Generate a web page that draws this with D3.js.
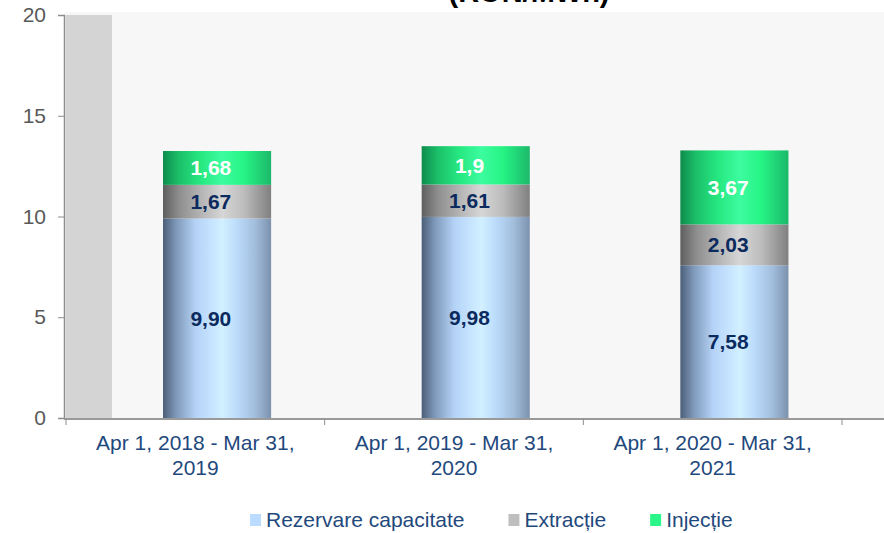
<!doctype html>
<html>
<head>
<style>
    body { margin: 0; background: #fff; }
    text { font-family: "Liberation Sans", Arial, sans-serif; }
</style>
<script src="https://d3js.org/d3.v7.min.js"></script>
</head>
<body>

    <svg id="my_dataviz" width="884" height="533"></svg>

    <script>

        // Data
        var categories = ["Apr 1, 2018 - Mar 31, 2019", "Apr 1, 2019 - Mar 31, 2020", "Apr 1, 2020 - Mar 31, 2021"];
        var catLines = [["Apr 1, 2018 - Mar 31,", "2019"], ["Apr 1, 2019 - Mar 31,", "2020"], ["Apr 1, 2020 - Mar 31,", "2021"]];
        var seriesNames = ["Rezervare capacitate", "Extracție", "Injecție"];
        var rezervare = [9.90, 9.98, 7.58];
        var extractie = [1.67, 1.61, 2.03];
        var injectie = [1.68, 1.9, 3.67];
        var labels = [["9,90", "9,98", "7,58"], ["1,67", "1,61", "2,03"], ["1,68", "1,9", "3,67"]];
        var yTicks = [0, 5, 10, 15, 20];

        var svg = d3.select("svg"), width = +svg.attr("width"), height = +svg.attr("height");

        // plot frame
        var pLeft = 64, pTop = 15, pBottom = 418, pRight = 884;

        var x = d3.scaleBand().domain(categories).range([66, 842]).padding(0);
        var y = d3.scaleLinear().domain([0, 20]).range([pBottom, pTop]);

        // gradients (cylinder look)
        var defs = svg.append("defs");
        var grads = [
          ["gBlue", [[0, "#4b5e78"], [0.12, "#7e98b8"], [0.3, "#b4d2f6"], [0.45, "#c6e4ff"], [0.55, "#d2f0ff"], [0.68, "#bcdcfc"], [0.85, "#a2bedc"], [1, "#7c92ae"]]],
          ["gGrey", [[0, "#5e5e5e"], [0.15, "#8e8e8e"], [0.35, "#b4b4b4"], [0.55, "#d6d6d6"], [0.75, "#bcbcbc"], [1, "#808080"]]],
          ["gGreen", [[0, "#0e8c4c"], [0.15, "#1cc06a"], [0.35, "#26e880"], [0.55, "#3cfca0"], [0.75, "#26f484"], [1, "#1cb86a"]]]
        ];
        grads.forEach(function (g) {
          var lg = defs.append("linearGradient").attr("id", g[0]).attr("x1", "0").attr("x2", "1").attr("y1", "0").attr("y2", "0");
          g[1].forEach(function (s) { lg.append("stop").attr("offset", s[0]).attr("stop-color", s[1]); });
        });
        var fills = ["url(#gBlue)", "url(#gGrey)", "url(#gGreen)"];
        var legendColors = ["#bcdcff", "#bfbfbf", "#2cf58a"];
        var labelColors = ["#0b2a5e", "#0b2a5e", "#ffffff"];

        // background + side wall
        svg.append("rect").attr("x", pLeft).attr("y", 12).attr("width", pRight - pLeft).attr("height", pBottom - 12).attr("fill", "#f7f7f7");
        svg.append("rect").attr("x", 66).attr("y", pTop).attr("width", 46).attr("height", pBottom - pTop).attr("fill", "#d4d4d4");

        // title (clipped at top)
        svg.append("text").attr("x", 529).attr("y", 2).attr("text-anchor", "middle")
          .attr("font-size", 29).attr("font-weight", "bold").attr("fill", "#000").text("(RON/MWh)");

        // stack
        var rows = categories.map(function (c, i) { return { cat: c, r: rezervare[i], e: extractie[i], j: injectie[i] }; });
        var stack = d3.stack().keys(["r", "e", "j"])(rows);

        var bw = x.bandwidth();
        stack.forEach(function (layer, k) {
          var g = svg.append("g");
          g.selectAll("rect").data(layer).enter().append("rect")
            .attr("x", function (d) { return x(d.data.cat) + bw * 0.375; })
            .attr("width", bw * 0.418)
            .attr("y", function (d) { return y(d[1]); })
            .attr("height", function (d) { return y(d[0]) - y(d[1]); })
            .attr("fill", fills[k]);
          g.selectAll("text").data(layer).enter().append("text")
            .attr("x", function (d) { return x(d.data.cat) + bw * 0.56; })
            .attr("y", function (d) { return (y(d[0]) + y(d[1])) / 2; })
            .attr("dy", "0.35em")
            .attr("text-anchor", "middle")
            .attr("font-size", 21).attr("font-weight", "bold")
            .attr("fill", labelColors[k])
            .text(function (d, i) { return labels[k][i]; });
        });

        // y axis
        var yAxis = svg.append("g").attr("transform", "translate(" + pLeft + ",0)")
          .call(d3.axisLeft(y).tickValues(yTicks).tickSize(6).tickPadding(12));
        yAxis.select(".domain").attr("stroke", "#8c8c8c").attr("stroke-width", 1.5);
        yAxis.selectAll(".tick line").attr("stroke", "#8c8c8c");
        yAxis.selectAll(".tick text").attr("font-size", 21).attr("fill", "#595959").attr("font-family", "Liberation Sans, Arial, sans-serif");

        // x axis
        var xAxis = svg.append("g").attr("transform", "translate(0," + (pBottom + 1) + ")");
        xAxis.append("line").attr("x1", pLeft).attr("x2", pRight).attr("stroke", "#9a9a9a").attr("stroke-width", 2);
        var xt = [66].concat(categories.map(function (c) { return x(c) + bw; }));
        xAxis.selectAll(".xt").data(xt).enter().append("line")
          .attr("x1", function (d) { return d; }).attr("x2", function (d) { return d; })
          .attr("y1", 0).attr("y2", 6).attr("stroke", "#8c8c8c");
        categories.forEach(function (c, i) {
          var t = svg.append("text").attr("text-anchor", "middle").attr("font-size", 21).attr("fill", "#1f497d");
          catLines[i].forEach(function (ln, j) {
            t.append("tspan").attr("x", x(c) + bw / 2).attr("y", 450 + j * 25).text(ln);
          });
        });

        // legend
        var lx = 250;
        seriesNames.forEach(function (n, i) {
          svg.append("rect").attr("x", lx).attr("y", 514).attr("width", 11).attr("height", 12).attr("fill", legendColors[i]);
          var t = svg.append("text").attr("x", lx + 16).attr("y", 527).attr("font-size", 21).attr("fill", "#1f497d").text(n);
          lx += 16 + t.node().getComputedTextLength() + 44;
        });

    </script>

</body>
</html>
